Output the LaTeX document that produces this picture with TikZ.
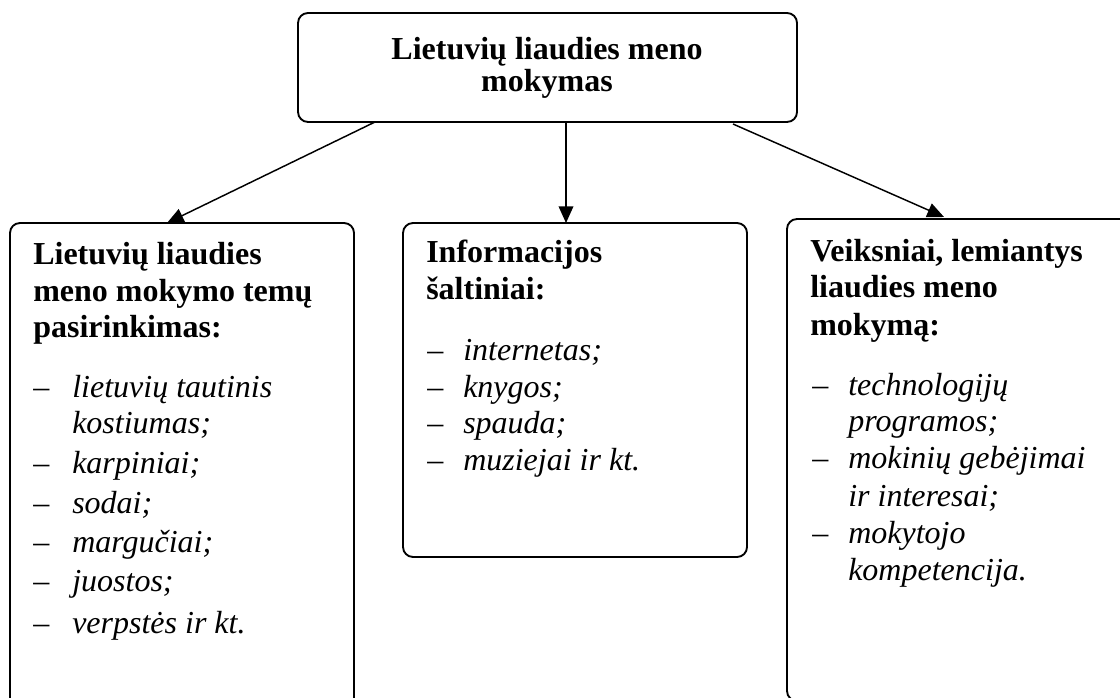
\documentclass[tikz,border=0pt]{standalone}
\usepackage{fontspec}
\setmainfont{Liberation Serif}
\usetikzlibrary{arrows.meta,calc}
\begin{document}
\begin{tikzpicture}[x=0.75pt,y=-0.75pt,
  box/.style={draw, line width=1.4pt, rounded corners=7.5pt, inner sep=0pt, outer sep=0pt},
  arr/.style={line width=1.1pt, -{Triangle[length=12.5pt,width=11pt]}},
  hd/.style={anchor=base west, inner sep=0pt, font=\fontsize{24}{27}\selectfont\bfseries},
  itm/.style={anchor=base west, inner sep=0pt, font=\fontsize{24}{27}\selectfont\itshape},
  dsh/.style={anchor=base west, inner sep=0pt, font=\fontsize{24}{27}\selectfont},
  ttl/.style={anchor=base, inner sep=0pt, font=\fontsize{24}{27}\selectfont\bfseries}]
\clip (0,0) rectangle (1120,698);
\fill[white] (0,0) rectangle (1120,698);

% boxes
\node[box, minimum width=374.25pt, minimum height=81.75pt] (top) at (547.5,67.5) {};
\node[box, minimum width=258pt, minimum height=380.25pt] (left) at (182,476.5) {};
\node[box, minimum width=258pt, minimum height=250.5pt] (mid) at (575,390) {};
\node[box, minimum width=264.75pt, minimum height=361.5pt] (right) at (963.5,460) {};

% title
\node[ttl] (t1) at (547,60) {Lietuvių liaudies meno};
\node[ttl] (t2) at (547,92) {mokymas};

% left box
\node[hd] (l1) at (33,265) {Lietuvių liaudies};
\node[hd] (l2) at (33,302) {meno mokymo temų};
\node[hd] (l3) at (33,338) {pasirinkimas:};
\node[dsh] (ld1) at (33,397) {–};
\node[itm] (li1) at (72,397) {lietuvių tautinis};
\node[itm] (li1b) at (72,433) {kostiumas;};
\node[dsh] (ld2) at (33,473) {–};
\node[itm] (li2) at (72,473) {karpiniai;};
\node[dsh] (ld3) at (33,513) {–};
\node[itm] (li3) at (72,513) {sodai;};
\node[dsh] (ld4) at (33,552) {–};
\node[itm] (li4) at (72,552) {margučiai;};
\node[dsh] (ld5) at (33,591) {–};
\node[itm] (li5) at (72,591) {juostos;};
\node[dsh] (ld6) at (33,633) {–};
\node[itm] (li6) at (72,633) {verpstės ir kt.};

% middle box
\node[hd] (m1) at (426,263) {Informacijos};
\node[hd] (m2) at (426,300) {šaltiniai:};
\node[dsh] (md1) at (427,360) {–};
\node[itm] (mi1) at (463,360) {internetas;};
\node[dsh] (md2) at (427,397) {–};
\node[itm] (mi2) at (463,397) {knygos;};
\node[dsh] (md3) at (427,433) {–};
\node[itm] (mi3) at (463,433) {spauda;};
\node[dsh] (md4) at (427,470) {–};
\node[itm] (mi4) at (463,470) {muziejai ir kt.};

% right box
\node[hd] (r1) at (810,262) {Veiksniai, lemiantys};
\node[hd] (r2) at (810,298) {liaudies meno};
\node[hd] (r3) at (810,335) {mokymą:};
\node[dsh] (rd1) at (812,395) {–};
\node[itm] (ri1) at (848,395) {technologijų};
\node[itm] (ri1b) at (848,431) {programos;};
\node[dsh] (rd2) at (812,468) {–};
\node[itm] (ri2) at (848,468) {mokinių gebėjimai};
\node[itm] (ri2b) at (848,506) {ir interesai;};
\node[dsh] (rd3) at (812,543) {–};
\node[itm] (ri3) at (848,543) {mokytojo};
\node[itm] (ri3b) at (848,580) {kompetencija.};

% connectors
\draw[arr] ($(top.south west)+(77,0)$) -- ($(left.north west)+(157,0)$);
\draw[arr] ($(top.south west)+(268,0)$) -- ($(mid.north west)+(163,0)$);
\draw[arr] ($(top.south west)+(435,2)$) -- ($(right.north west)+(157,-2)$);
\end{tikzpicture}
\end{document}
